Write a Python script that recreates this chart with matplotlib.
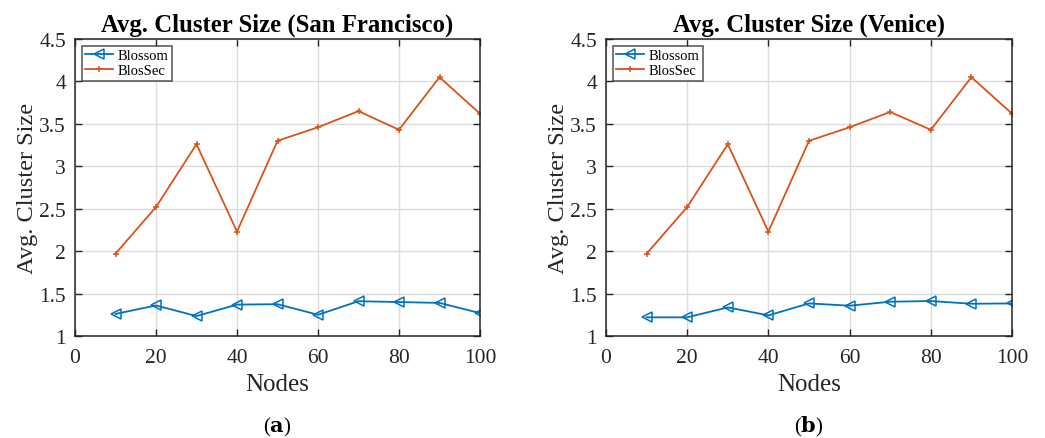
import matplotlib.pyplot as plt

plt.rcParams["font.family"] = ["Liberation Serif", "DejaVu Serif"]
plt.rcParams["mathtext.fontset"] = "dejavuserif"

nodes = [10, 20, 30, 40, 50, 60, 70, 80, 90, 100]

# San Francisco
sf_blossom = [1.26, 1.36, 1.235, 1.37, 1.375, 1.25, 1.41, 1.40, 1.39, 1.27]
sf_blossec = [1.97, 2.52, 3.26, 2.23, 3.30, 3.46, 3.65, 3.43, 4.05, 3.62]

# Venice
ve_blossom = [1.22, 1.22, 1.337, 1.243, 1.384, 1.357, 1.404, 1.412, 1.38, 1.384]
ve_blossec = [1.97, 2.52, 3.26, 2.23, 3.30, 3.46, 3.64, 3.43, 4.05, 3.62]

titles = ["Avg. Cluster Size (San Francisco)", "Avg. Cluster Size (Venice)"]
panel_labels = [r"($\mathbf{a}$)", r"($\mathbf{b}$)"]

blue = "#0072BD"
orange = "#D95319"

fig = plt.figure(figsize=(10.45, 4.39), dpi=100)
W, H = 1045, 439
boxes = [(75, 40, 405, 297), (606, 40, 406, 297)]

series = [(sf_blossom, sf_blossec), (ve_blossom, ve_blossec)]

for (x0, y0, w, h), (blossom, blossec), title, lab in zip(boxes, series, titles, panel_labels):
    ax = fig.add_axes([x0 / W, 1 - (y0 + h) / H, w / W, h / H])
    ax.plot(nodes, blossom, color=blue, lw=1.3, marker="<", ms=6.5,
            markerfacecolor="none", markeredgewidth=1.1, label="Blossom")
    ax.plot(nodes, blossec, color=orange, lw=1.3, marker="+", ms=5,
            markeredgewidth=1.1, label="BlosSec")
    ax.set_xlim(0, 100)
    ax.set_ylim(1, 4.5)
    ax.set_xticks([0, 20, 40, 60, 80, 100])
    ax.set_yticks([1, 1.5, 2, 2.5, 3, 3.5, 4, 4.5])
    ax.set_yticklabels(["1", "1.5", "2", "2.5", "3", "3.5", "4", "4.5"])
    ax.grid(True, color="#dcdcdc", lw=1)
    ax.set_axisbelow(True)
    ax.tick_params(direction="in", top=True, right=True, labelsize=15.5,
                   length=5, width=1, colors="#262626")
    ax.tick_params(axis="x", pad=9)
    ax.tick_params(axis="y", pad=6.5)
    for sp in ax.spines.values():
        sp.set_color("#262626")
        sp.set_linewidth(1.1)
    ax.set_xlabel("Nodes", fontsize=18, color="#262626", labelpad=4)
    ax.set_ylabel("Avg. Cluster Size", fontsize=17.6, color="#262626", labelpad=1)
    ax.set_title(title, fontsize=17.8, fontweight="bold", pad=6)
    leg = ax.legend(loc="upper left", fontsize=10.5, frameon=True, fancybox=False,
                    edgecolor="#262626", borderpad=0.25, labelspacing=0.1,
                    handlelength=1.9, handletextpad=0.3,
                    bbox_to_anchor=(0.0, 1.0), borderaxespad=0.45)
    leg.get_frame().set_linewidth(1.1)
    fig.text((x0 + w / 2) / W, 1 - 427 / H, lab, ha="center", va="center",
             fontsize=15)

fig.savefig("out.png", dpi=100)
